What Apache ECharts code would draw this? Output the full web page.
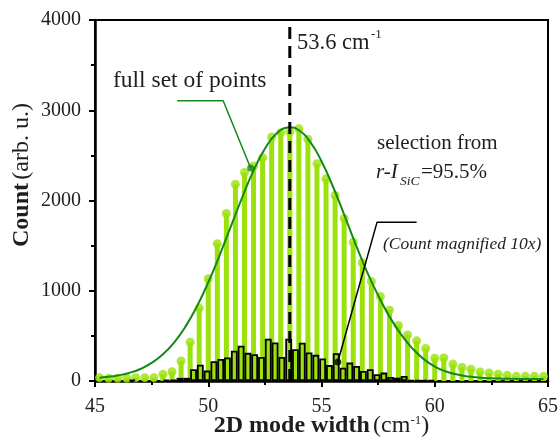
<!DOCTYPE html>
<html><head><meta charset="utf-8">
<script src="https://cdn.jsdelivr.net/npm/echarts@6/dist/echarts.min.js"></script>
<style>html,body{margin:0;padding:0;background:#fff}#c{width:560px;height:446px}</style>
</head><body><div id="c"></div>
<script>
// full set of points (bin centres, counts)
const fullX = [45.2,45.6,46.0,46.4,46.8,47.2,47.6,48.0,48.4,48.8,49.2,49.6,50.0,50.4,50.8,51.2,51.6,52.0,52.4,52.8,53.2,53.6,54.0,54.4,54.8,55.2,55.6,56.0,56.4,56.8,57.2,57.6,58.0,58.4,58.8,59.2,59.6,60.0,60.4,60.8,61.2,61.6,62.0,62.4,62.8,63.2,63.6,64.0,64.4,64.8];
const fullCount = [37,30,30,30,37,37,37,74,103,222,430,808,1133,1522,1856,2180,2310,2381,2474,2704,2752,2762,2795,2680,2408,2241,2055,1800,1537,1310,1103,935,785,615,511,445,360,252,255,187,150,130,100,89,76,63,52,52,52,52];
// selection from r-I_SiC = 95.5 % (count magnified 10x)
const selX = [46.65,48.15,48.45,48.75,49.05,49.35,49.65,49.95,50.25,50.55,50.85,51.15,51.45,51.75,52.05,52.35,52.65,52.95,53.25,53.55,53.85,54.15,54.45,54.75,55.05,55.35,55.65,55.95,56.25,56.55,56.85,57.15,57.45,57.75,58.05,58.35,58.65,58.95,59.25,59.55,59.85];
const selCount = [12,12,12,35,35,130,180,115,220,245,260,335,390,312,296,267,468,426,267,468,352,424,315,290,250,176,307,148,204,167,111,130,74,93,44,37,56,8,8,10,8];
const selBinWidth = 0.3;
// fitted curve
const fitX = [45.2,45.5,46.0,46.5,47.0,47.5,48.0,48.5,49.0,49.5,50.0,50.5,51.0,51.5,52.0,52.5,53.0,53.5,53.6,54.0,54.5,55.0,55.5,56.0,56.5,57.0,57.5,58.0,58.5,59.0,59.5,60.0,60.5,61.0,61.5,62.0,62.5,63.0,63.5,64.0,64.5,64.8];
const fitCount = [37,44,61,89,133,200,296,429,605,827,1092,1393,1714,2035,2331,2573,2739,2810,2812,2779,2650,2435,2158,1844,1520,1215,950,715,520,365,245,160,105,71,50,37,30,26,24,23,22,22];
// peak marker and annotation leaders
const peakX = 53.6;
const peakLine = [[peakX, 0], [peakX, 4000]];
const fullLeader = [[48.63, 3106], [50.66, 3106], [51.87, 2360]];
const selLeader = [[59.2, 1758], [57.45, 1758], [55.72, 210]];
const xTicks = {min: 45, max: 65, step: 5};
const yTicks = {min: 0, max: 4000, step: 1000};

const FONT = '"Liberation Serif", "DejaVu Serif", serif';
const GREEN = '#9be10c';
const DKGREEN = '#138a17';
const TXT = '#1e1e1e';
const G = {left: 95, right: 12, top: 20, bottom: 65};

const chart = echarts.init(document.getElementById('c'), null, {renderer: 'canvas'});
const pxPerUnit = (560 - G.left - G.right) / (xTicks.max - xTicks.min);

function axisCommon(margin) {
  return {
    axisLine: {show: true, onZero: false, lineStyle: {color: '#000', width: 2.5}},
    axisTick: {show: true, inside: false, length: 6, lineStyle: {color: '#000', width: 2}},
    minorTick: {show: true, splitNumber: 2, length: 4, lineStyle: {color: '#000', width: 2}},
    splitLine: {show: false},
    axisLabel: {fontFamily: FONT, fontSize: 20, color: TXT, margin: margin, formatter: v => String(v)}
  };
}

const txt = (x, y, text, size, extra) => ({type: 'text', x: x, y: y, z: 10,
  style: Object.assign({text: text, fontFamily: FONT, fontSize: size, fill: TXT, verticalAlign: 'middle'}, extra || {})});

const option = {
  animation: false,
  grid: Object.assign({show: true, borderColor: '#000', borderWidth: 2, backgroundColor: 'transparent',
    containLabel: false, outerBoundsMode: 'none'}, G),
  xAxis: [
    Object.assign({type: 'value', min: xTicks.min, max: xTicks.max, interval: xTicks.step,
      name: '{b|2D mode width} {n|(cm}{s|-1}{n|)}', nameLocation: 'middle', nameGap: 33, nameMoveOverlap: false,
      nameTextStyle: {rich: {
        b: {fontFamily: FONT, fontSize: 24, fontWeight: 'bold', color: TXT},
        n: {fontFamily: FONT, fontSize: 24, color: TXT},
        s: {fontFamily: FONT, fontSize: 13, color: TXT, verticalAlign: 'top'}
      }}}, axisCommon(16)),
    {type: 'value', min: xTicks.min, max: xTicks.max, show: false}
  ],
  yAxis: Object.assign({type: 'value', min: yTicks.min, max: yTicks.max, interval: yTicks.step}, axisCommon(14)),
  series: [
    {type: 'bar', xAxisIndex: 0, barWidth: 5, z: 2,
      itemStyle: {color: GREEN},
      data: fullX.map((x, i) => [x, fullCount[i]])},
    {type: 'scatter', xAxisIndex: 0, symbolSize: 9, z: 2,
      itemStyle: {color: GREEN},
      data: fullX.map((x, i) => [x, fullCount[i]])},
    {type: 'line', xAxisIndex: 0, smooth: true, symbol: 'none', z: 3,
      lineStyle: {color: DKGREEN, width: 2},
      data: fitX.map((x, i) => [x, fitCount[i]])},
    {type: 'bar', xAxisIndex: 1, barWidth: selBinWidth * pxPerUnit, z: 4,
      itemStyle: {color: GREEN, borderColor: '#000', borderWidth: 1.8},
      data: selX.map((x, i) => [x, selCount[i]])},
    {type: 'line', xAxisIndex: 0, symbol: 'none', z: 5,
      lineStyle: {color: '#000', width: 3, type: [12, 7]},
      data: peakLine},
    {type: 'line', xAxisIndex: 0, symbol: 'none', z: 6,
      lineStyle: {color: DKGREEN, width: 1.5},
      data: fullLeader},
    {type: 'scatter', xAxisIndex: 0, symbolSize: 7, z: 6,
      itemStyle: {color: DKGREEN},
      data: [fullLeader[fullLeader.length - 1]]},
    {type: 'line', xAxisIndex: 0, symbol: 'none', z: 6,
      lineStyle: {color: '#000', width: 1.5},
      data: selLeader},
    {type: 'scatter', xAxisIndex: 0, symbolSize: 7, z: 6,
      itemStyle: {color: '#000'},
      data: [selLeader[selLeader.length - 1]]}
  ],
  graphic: [
    txt(297, 43, '53.6 cm', 22.5),
    txt(371, 35, '-1', 13),
    txt(113, 81, 'full set of points', 23.5),
    txt(377, 143, 'selection from', 21),
    txt(376, 172, 'r-I', 21, {fontStyle: 'italic'}),
    txt(400, 181, 'SiC', 13.5, {fontStyle: 'italic'}),
    txt(421, 172, '=95.5%', 21),
    txt(383, 244, '(Count magnified 10x)', 17.5, {fontStyle: 'italic'}),
    {type: 'text', x: 22, y: 175, rotation: Math.PI / 2, z: 10, style: {
      text: '{b|Count} {n|(arb. u.)}', align: 'center', verticalAlign: 'middle',
      rich: {
        b: {fontFamily: FONT, fontSize: 24, fontWeight: 'bold', fill: TXT},
        n: {fontFamily: FONT, fontSize: 24, fill: TXT}}}}
  ]
};
chart.setOption(option);
</script>
</body></html>
